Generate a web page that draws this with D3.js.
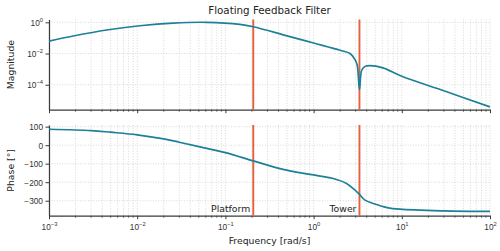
<!DOCTYPE html>
<html>
<head>
<meta charset="utf-8">
<script src="https://cdn.jsdelivr.net/npm/d3@7"></script>
<style>
  body { margin: 0; background: #fff; }
  svg { font-family: "DejaVu Sans", sans-serif; }
</style>
</head>
<body>
<svg id="chart" width="500" height="251"></svg>
<script>
// values
const freq = [0.001, 0.00188, 0.0045, 0.0107, 0.0256, 0.061, 0.146, 0.207, 0.5, 1, 2, 2.59, 2.95, 3.13, 3.31, 3.51, 3.83, 4.36, 6.12, 10, 30, 100];
const magnitude = [0.063, 0.132, 0.32, 0.60, 0.89, 1.0, 0.74, 0.52, 0.135, 0.047, 0.0162, 0.01, 0.0041, 0.0017, 0.00005, 0.00085, 0.0015, 0.0017, 0.0012, 0.00035, 0.000041, 0.0000038];

const phaseFreq = [0.001, 0.003, 0.005, 0.01, 0.02, 0.03, 0.0515, 0.1, 0.207, 0.45, 0.91, 1.67, 2.36, 2.95, 3.31, 3.83, 4.75, 6.8, 9.5, 30, 100];
const phase = [86, 79, 70, 56, 34, 16, -9, -40, -85, -131, -158, -180, -207, -243, -266, -297, -315, -337, -346, -355, -358];

const modes = ['Platform', 'Tower'];
const modeFreq = [0.207, 3.31];

const magTicks = [1, 1e-2, 1e-4];
const phaseTicks = [100, 0, -100, -200, -300];
const freqTicks = [1e-3, 1e-2, 1e-1, 1e0, 1e1, 1e2];

const teal = '#1d8098', red = '#e5603f', axisCol = '#3a3a3a', gridCol = '#cfcfcf';

const svg = d3.select('#chart');
const left = 49, right = 490;

const x = d3.scaleLog().domain([1e-3, 1e2]).range([left, right]);
const yMag = d3.scaleLog().domain([Math.pow(10, -5.6), Math.pow(10, 0.18)]).range([109.7, 19.5]);
const yPh = d3.scaleLinear().domain([-381, 109]).range([215.7, 125]);

// minor ticks 2..9 per decade
const minor = [];
for (let e = -3; e < 2; e++) for (let m = 2; m < 10; m++) minor.push(m * Math.pow(10, e));

function expLabel(sel, v) {
  const e = Math.round(Math.log10(v));
  const t = sel.append('text').attr('fill', '#333').attr('font-size', 8.3);
  t.append('tspan').text('10');
  t.append('tspan').attr('font-size', 5.8).attr('dy', -4).text(e < 0 ? '\u2212' + (-e) : e);
  return t;
}

function panel(y, yTicks, isLog, ylabel, showX) {
  const [yb, yt] = y.range();
  const g = svg.append('g');

  // grid
  g.selectAll('.vg').data(freqTicks.concat(minor)).enter().append('line')
    .attr('x1', d => x(d)).attr('x2', d => x(d)).attr('y1', yt).attr('y2', yb)
    .attr('stroke', gridCol).attr('stroke-width', 0.8).attr('stroke-dasharray', '1,1.6');
  g.selectAll('.hg').data(yTicks).enter().append('line')
    .attr('x1', left).attr('x2', right).attr('y1', d => y(d)).attr('y2', d => y(d))
    .attr('stroke', gridCol).attr('stroke-width', 0.8).attr('stroke-dasharray', '1,1.6');

  // x axis
  const xa = g.append('g').attr('transform', `translate(0,${yb})`)
    .call(d3.axisBottom(x).tickValues(freqTicks).tickFormat('').tickSize(3.5).tickSizeOuter(0));
  xa.append('g').selectAll('line').data(minor).enter().append('line')
    .attr('x1', d => x(d)).attr('x2', d => x(d)).attr('y1', 0).attr('y2', 2)
    .attr('stroke', axisCol).attr('stroke-width', 0.8);
  xa.select('.domain').attr('stroke', axisCol).attr('stroke-width', 1.2);
  xa.selectAll('.tick line').attr('stroke', axisCol).attr('stroke-width', 1);
  if (showX) {
    xa.selectAll('.tick').each(function (d) {
      expLabel(d3.select(this), d).attr('y', 14).attr('text-anchor', 'middle');
    });
  }

  // y axis
  const ya = g.append('g').attr('transform', `translate(${left},0)`)
    .call(d3.axisLeft(y).tickValues(yTicks).tickFormat('').tickSize(3.5).tickSizeOuter(0));
  ya.select('.domain').attr('stroke', axisCol).attr('stroke-width', 1.2);
  ya.selectAll('.tick line').attr('stroke', axisCol).attr('stroke-width', 1);
  ya.selectAll('.tick').each(function (d) {
    if (isLog) {
      expLabel(d3.select(this), d).attr('x', -6).attr('y', 3).attr('text-anchor', 'end');
    } else {
      d3.select(this).append('text').attr('fill', '#333').attr('font-size', 8.3)
        .attr('x', -6).attr('y', 3).attr('text-anchor', 'end')
        .text(d < 0 ? '\u2212' + (-d) : d);
    }
  });

  svg.append('text').attr('transform', `translate(14,${(yt + yb) / 2}) rotate(-90)`)
    .attr('text-anchor', 'middle').attr('font-size', 9.3).attr('fill', '#222').text(ylabel);

  // mode markers
  g.selectAll('.mode').data(modeFreq).enter().append('line')
    .attr('x1', d => x(d)).attr('x2', d => x(d)).attr('y1', yt).attr('y2', yb)
    .attr('stroke', red).attr('stroke-width', 1.9);
  return g;
}

const gMag = panel(yMag, magTicks, true, 'Magnitude', false);
const gPh = panel(yPh, phaseTicks, false, 'Phase [°]', true);

gMag.append('path').datum(freq.map((f, i) => [f, magnitude[i]]))
  .attr('fill', 'none').attr('stroke', teal).attr('stroke-width', 1.7)
  .attr('d', d3.line().x(d => x(d[0])).y(d => yMag(d[1])).curve(d3.curveCatmullRom));

gPh.append('path').datum(phaseFreq.map((f, i) => [f, phase[i]]))
  .attr('fill', 'none').attr('stroke', teal).attr('stroke-width', 1.7)
  .attr('d', d3.line().x(d => x(d[0])).y(d => yPh(d[1])).curve(d3.curveCatmullRom));

gPh.selectAll('.lbl').data(modes).enter().append('text')
  .attr('x', (d, i) => x(modeFreq[i]) - 3).attr('y', 212)
  .attr('text-anchor', 'end').attr('font-size', 9.3).attr('fill', '#222').text(d => d);

svg.append('text').attr('x', (left + right) / 2).attr('y', 14)
  .attr('text-anchor', 'middle').attr('font-size', 10.3).attr('fill', '#222').text('Floating Feedback Filter');
svg.append('text').attr('x', (left + right) / 2).attr('y', 244)
  .attr('text-anchor', 'middle').attr('font-size', 9.3).attr('fill', '#222').text('Frequency [rad/s]');
</script>
</body>
</html>
